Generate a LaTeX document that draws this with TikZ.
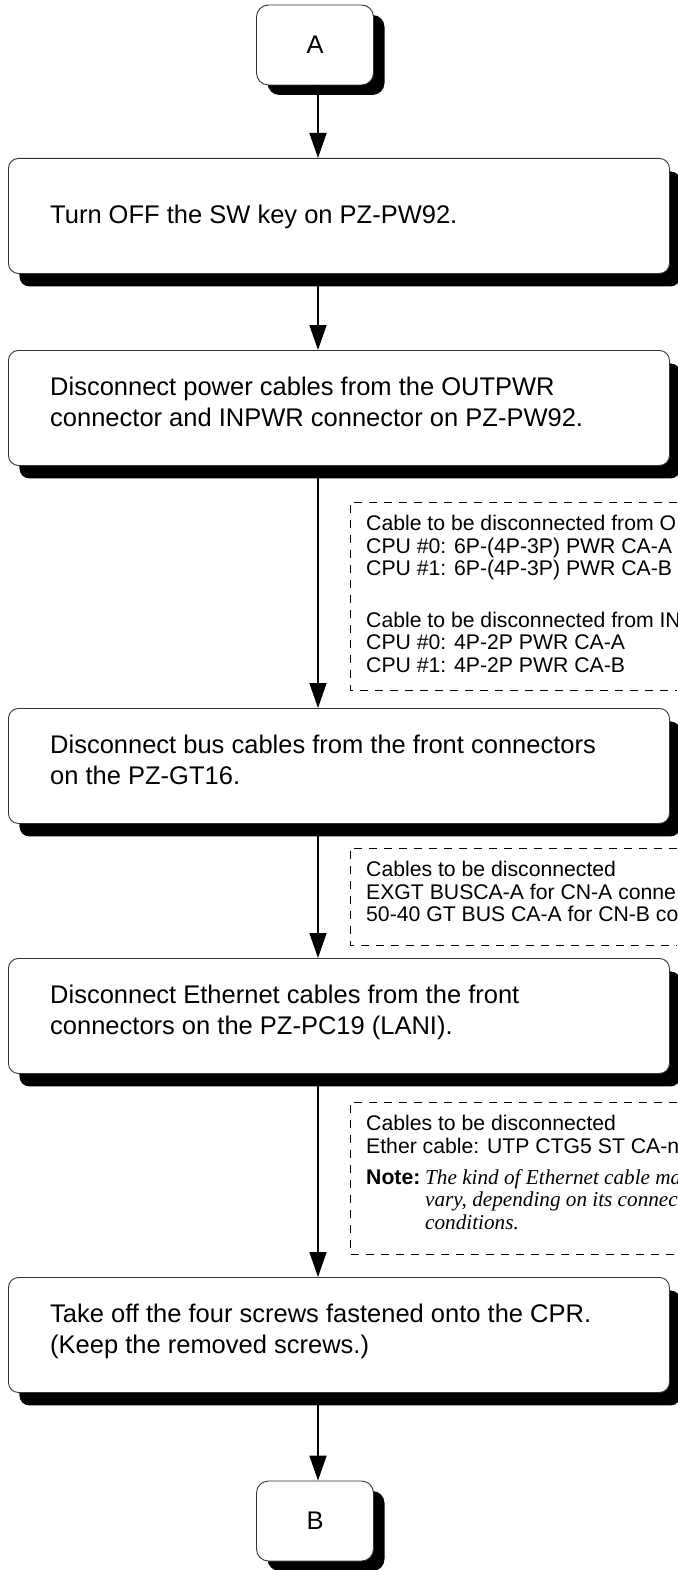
\documentclass[tikz,border=0pt]{standalone}
\usepackage{fontspec}
\setmainfont{Liberation Sans}
\newfontfamily\serifit{Liberation Serif}
\usetikzlibrary{arrows.meta,shadows,calc}
\newcommand\linestack[1]{\vtop{\halign{##\hfil\cr#1\crcr}}}
\tikzset{
  mainbox/.style={draw=black!80, line width=0.9pt, fill=white, rounded corners=10pt,
    minimum width=661pt, minimum height=115pt, inner sep=0pt, anchor=north west,
    drop shadow={shadow xshift=11pt, shadow yshift=-13pt, fill=black, opacity=1}},
  termbox/.style={draw=black!80, line width=0.9pt, fill=white, rounded corners=12pt,
    minimum width=117pt, minimum height=80pt, inner sep=0pt,
    font=\fontsize{25.5}{31}\selectfont,
    drop shadow={shadow xshift=11pt, shadow yshift=-10pt, fill=black, opacity=1}},
  maintext/.style={font=\fontsize{25.5}{31}\selectfont, anchor=base west, inner sep=0pt},
  notetext/.style={font=\fontsize{21.2}{22.5}\selectfont, anchor=base west, inner sep=0pt},
  notedash/.style={line width=0.9pt, dash pattern=on 8pt off 7pt},
  arr/.style={line width=1.6pt, -{Triangle[length=25pt,width=17pt]}}
}
\begin{document}
\begin{tikzpicture}[x=1pt,y=-1pt]
\useasboundingbox (0,0) rectangle (677,1570);
\fill[white] (0,0) rectangle (677,1570);
\coordinate (col) at (318,0);

% boxes
\node[termbox] (A) at (315,45) {A};
\node[mainbox] (b1) at (8,158) {};
\node[mainbox] (b2) at (8,350) {};
\node[mainbox] (b3) at (8,708) {};
\node[mainbox] (b4) at (8,958) {};
\node[mainbox] (b5) at (8,1277) {};
\node[termbox] (B) at (315,1521) {B};

% connectors
\draw[arr] (A.south -| col) -- (b1.north -| col);
\draw[arr] (b1.south -| col) -- (b2.north -| col);
\draw[arr] (b2.south -| col) -- (b3.north -| col);
\draw[arr] (b3.south -| col) -- (b4.north -| col);
\draw[arr] (b4.south -| col) -- (b5.north -| col);
\draw[arr] (b5.south -| col) -- (B.north -| col);

% box texts
\node[maintext] (t1) at (50,224) {Turn OFF the SW key on PZ-PW92.};
\node[maintext] (t2) at (50,395) {\linestack{Disconnect power cables from the OUTPWR\cr connector and INPWR connector on PZ-PW92.}};
\node[maintext] (t3) at (50,753) {\linestack{Disconnect bus cables from the front connectors\cr on the PZ-GT16.}};
\node[maintext] (t4) at (50,1003) {\linestack{Disconnect Ethernet cables from the front\cr connectors on the PZ-PC19 (LANI).}};
\node[maintext] (t5) at (50,1322) {\linestack{Take off the four screws fastened onto the CPR.\cr (Keep the removed screws.)}};

% note frames
\draw[notedash] (677,502) -- (350,502) -- (350,690) -- (677,690);
\draw[notedash] (677,848) -- (350,848) -- (350,945) -- (677,945);
\draw[notedash] (677,1102) -- (350,1102) -- (350,1254) -- (677,1254);

% note texts
\node[notetext] (n1a) at (366,530.5) {\linestack{Cable to be disconnected from O\cr CPU \#0: 6P-(4P-3P) PWR CA-A\cr CPU \#1: 6P-(4P-3P) PWR CA-B}};
\node[notetext] (n1b) at (366,627) {\linestack{Cable to be disconnected from IN\cr CPU \#0: 4P-2P PWR CA-A\cr CPU \#1: 4P-2P PWR CA-B}};
\node[notetext] (n2) at (366,876.5) {\linestack{Cables to be disconnected\cr EXGT BUSCA-A for CN-A conne\cr 50-40 GT BUS CA-A for CN-B co}};
\node[notetext] (n3) at (366,1130.5) {\linestack{Cables to be disconnected\cr Ether cable: UTP CTG5 ST CA-n}};
\node[notetext, font=\fontsize{21.2}{22.5}\selectfont\bfseries] (n3note) at (366,1184) {Note:};
\node[notetext, font=\fontsize{21.2}{22.5}\selectfont\serifit\itshape] (n3body) at (425,1184) {\linestack{The kind of Ethernet cable ma\cr vary, depending on its connec\cr conditions.}};
\end{tikzpicture}
\end{document}
